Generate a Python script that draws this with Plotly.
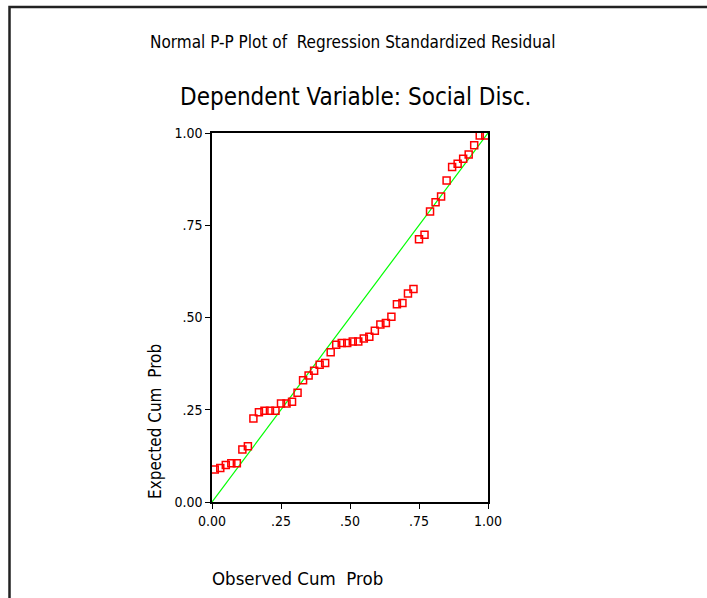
import plotly.graph_objects as go

observed = [0.01, 0.03, 0.05, 0.07, 0.09, 0.11, 0.13, 0.15, 0.17, 0.19,
            0.21, 0.23, 0.25, 0.27, 0.29, 0.31, 0.33, 0.35, 0.37, 0.39,
            0.41, 0.43, 0.45, 0.47, 0.49, 0.51, 0.53, 0.55, 0.57, 0.59,
            0.61, 0.63, 0.65, 0.67, 0.69, 0.71, 0.73, 0.75, 0.77, 0.79,
            0.81, 0.83, 0.85, 0.87, 0.89, 0.91, 0.93, 0.95, 0.97, 0.99]
expected = [0.088, 0.092, 0.100, 0.105, 0.105, 0.142, 0.151, 0.226, 0.243, 0.247,
            0.247, 0.247, 0.267, 0.267, 0.272, 0.296, 0.330, 0.343, 0.356, 0.372,
            0.377, 0.406, 0.426, 0.431, 0.431, 0.435, 0.435, 0.443, 0.448, 0.464,
            0.481, 0.485, 0.502, 0.536, 0.539, 0.565, 0.577, 0.712, 0.724, 0.787,
            0.812, 0.828, 0.871, 0.908, 0.917, 0.930, 0.942, 0.967, 0.993, 0.993]
ref_line = [0.0, 1.0]
tick_vals = [0.0, 0.25, 0.5, 0.75, 1.0]
tick_text = ["0.00", ".25", ".50", ".75", "1.00"]

FONT = "DejaVu Sans Condensed, Liberation Sans, Arial, sans-serif"

fig = go.Figure()
fig.add_trace(go.Scatter(x=ref_line, y=ref_line, mode="lines",
                         line=dict(color="#00ff00", width=1.2),
                         hoverinfo="skip", showlegend=False))
fig.add_trace(go.Scatter(x=observed, y=expected, mode="markers",
                         marker=dict(symbol="square-open", size=7,
                                     color="#ff0000", line=dict(width=1.5, color="#ff0000")),
                         showlegend=False, cliponaxis=False))

W, H = 707, 598
L, R, T, B = 212, 488, 133, 502
pw, ph = R - L, B - T

def px(x):
    return (x - L) / pw

def py(y):
    return (B - y) / ph

axis_common = dict(range=[0, 1], tickvals=tick_vals, ticktext=tick_text,
                   showgrid=False, zeroline=False, showline=True, linecolor="black",
                   linewidth=1.5, mirror=True, ticks="outside", ticklen=5,
                   tickcolor="black", tickwidth=1.2,
                   tickfont=dict(family=FONT, size=14, color="black"))

fig.update_layout(
    width=W, height=H,
    margin=dict(l=L, r=W - R, t=T, b=H - B),
    paper_bgcolor="white", plot_bgcolor="white",
    xaxis=dict(**axis_common),
    yaxis=dict(**axis_common),
    annotations=[
        dict(text="Normal P-P Plot of  Regression Standardized Residual",
             xref="paper", yref="paper", x=px(352), y=py(42), showarrow=False,
             xanchor="center", yanchor="middle",
             font=dict(family=FONT, size=17, color="black")),
        dict(text="Dependent Variable: Social Disc.",
             xref="paper", yref="paper", x=px(355), y=py(97), showarrow=False,
             xanchor="center", yanchor="middle",
             font=dict(family=FONT, size=24, color="black")),
        dict(text="Observed Cum  Prob",
             xref="paper", yref="paper", x=px(210), y=py(578), showarrow=False,
             xanchor="left", yanchor="middle",
             font=dict(family=FONT, size=18.5, color="black")),
        dict(text="Expected Cum  Prob",
             xref="paper", yref="paper", x=px(155), y=py(422), showarrow=False,
             xanchor="center", yanchor="middle", textangle=-90,
             font=dict(family=FONT, size=17, color="black")),
    ],
    shapes=[
        dict(type="rect", xref="paper", yref="paper",
             x0=px(9.5), x1=px(730), y0=py(7), y1=py(630),
             fillcolor="rgba(0,0,0,0)",
             line=dict(color="#222222", width=2.5), layer="above"),
    ],
)

fig.write_html("out.html", config={"displayModeBar": False},
               post_script="document.body.style.margin='0';document.body.style.overflow='hidden';")
